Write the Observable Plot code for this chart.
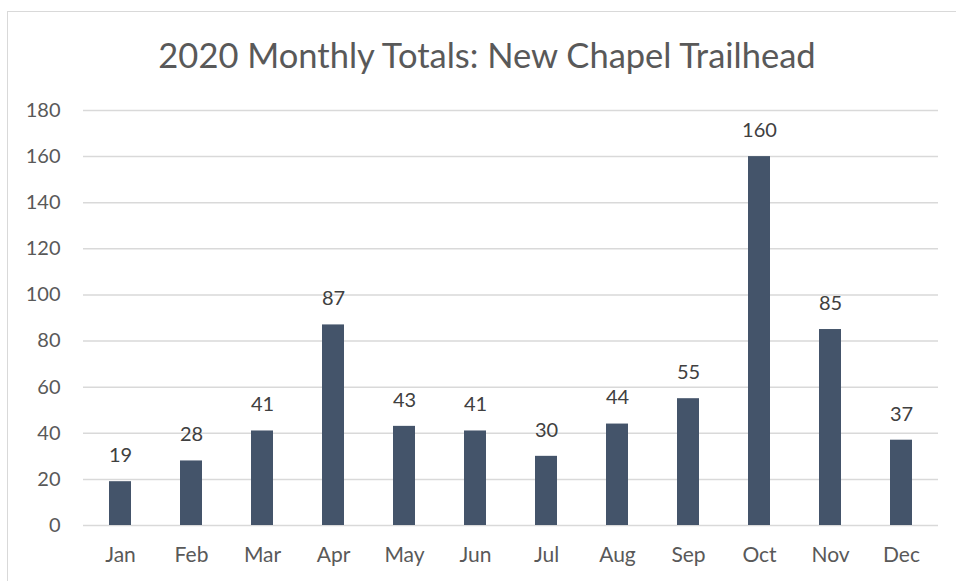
<!DOCTYPE html>
<html>
<head>
<meta charset="utf-8">
<script src="https://cdn.jsdelivr.net/npm/d3@7"></script>
<script src="https://cdn.jsdelivr.net/npm/@observablehq/plot@0.6"></script>
<style>
  html, body { margin: 0; padding: 0; background: #fff; overflow: hidden; }
  body { width: 956px; height: 581px; position: relative; font-family: Lato, "Open Sans", sans-serif; }
  #frame { position: absolute; left: 7px; top: 11px; width: 960px; height: 600px; border: 1px solid #d9d9d9; box-sizing: border-box; }
  #title { position: absolute; left: 7px; top: 38px; width: 960px; text-align: center; font-size: 34.5px; color: #595959; line-height: 1; }
  #chart { position: absolute; left: 0; top: 90px; }
</style>
</head>
<body>
<div id="frame"></div>
<div id="title">2020 Monthly Totals: New Chapel Trailhead</div>
<div id="chart"></div>
<script>
const months = ["Jan","Feb","Mar","Apr","May","Jun","Jul","Aug","Sep","Oct","Nov","Dec"];
const totals = [19, 28, 41, 87, 43, 41, 30, 44, 55, 160, 85, 37];
const yTicks = [0, 20, 40, 60, 80, 100, 120, 140, 160, 180];

const data = months.map((m, i) => ({month: m, total: totals[i]}));

const chart = Plot.plot({
  width: 956,
  height: 491,
  marginTop: 20,
  marginBottom: 56,
  marginLeft: 83,
  marginRight: 18,
  style: {fontFamily: "Lato, 'Open Sans', sans-serif", fontSize: "20px", color: "#595959", background: "transparent", overflow: "visible"},
  x: {domain: months, paddingInner: 0.684, paddingOuter: 0.342, label: null},
  y: {domain: [0, 180], label: null},
  marks: [
    Plot.gridY(yTicks, {stroke: "#d9d9d9", strokeOpacity: 1, strokeWidth: 1.5}),
    Plot.axisY(yTicks, {tickSize: 0, tickPadding: 23, label: null, fill: "#595959", fontSize: 20}),
    Plot.axisX({tickSize: 0, tickPadding: 22, label: null, fill: "#595959", fontSize: 21}),
    Plot.barY(data, {x: "month", y: "total", fill: "#44546a"}),
    Plot.text(data, {x: "month", y: "total", text: d => String(d.total), dy: -26, fill: "#404040", fontSize: 20})
  ]
});
document.getElementById("chart").appendChild(chart);
</script>
</body>
</html>
